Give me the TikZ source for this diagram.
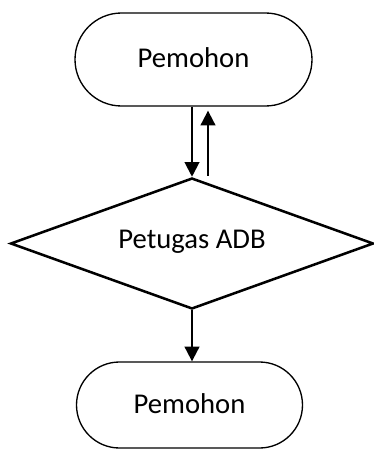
\documentclass[tikz,border=0pt]{standalone}
\usepackage{fontspec}
\setmainfont{Carlito}
\usetikzlibrary{shapes.misc,shapes.geometric,arrows.meta,calc}
\tikzset{
    terminal/.style={rounded rectangle, draw, line width=1pt, inner sep=0pt,
        font=\fontsize{21.5}{26}\selectfont},
    decision/.style={diamond, aspect=2.77, draw, line width=1.9pt, inner sep=0pt,
        font=\fontsize{21.5}{26}\selectfont},
    flow/.style={line width=1.5pt, -{Triangle[length=11pt,width=11pt]}}
}
\begin{document}
\begin{tikzpicture}[x=0.75pt,y=-0.75pt]
    \useasboundingbox (0,0) rectangle (374,450);
    \node[terminal, minimum width=177.75pt, minimum height=69.75pt] (pemohonA) at (193.5,59.5) {\raisebox{3pt}{Pemohon}};
    \node[decision, minimum width=272.25pt, minimum height=98.25pt] (petugas) at (192,243.5) {\raisebox{6pt}{Petugas ADB}};
    \node[terminal, minimum width=169.5pt, minimum height=64.5pt] (pemohonB) at (189.5,405) {\raisebox{2pt}{Pemohon}};
    \draw[flow] (pemohonA.south -| petugas.north) -- (petugas.north);
    \coordinate (balikA) at ($(petugas.north)+(16,-1)$);
    \coordinate (balikB) at ($(pemohonA.south -| balikA)+(0,4)$);
    \draw[flow] (balikA) -- (balikB);
    \draw[flow] (petugas.south) -- (petugas.south |- pemohonB.north);
\end{tikzpicture}
\end{document}
